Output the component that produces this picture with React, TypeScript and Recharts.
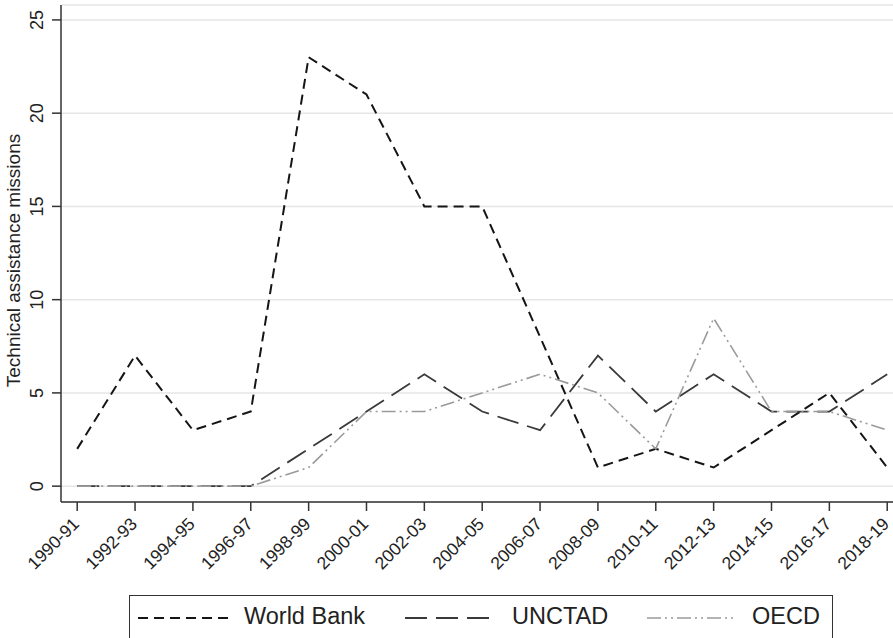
import { CartesianGrid, Line, LineChart, XAxis, YAxis } from 'recharts'

const periods = [
  '1990-91', '1992-93', '1994-95', '1996-97', '1998-99', '2000-01', '2002-03', '2004-05',
  '2006-07', '2008-09', '2010-11', '2012-13', '2014-15', '2016-17', '2018-19',
]
const worldBank = [2, 7, 3, 4, 23, 21, 15, 15, 8, 1, 2, 1, 3, 5, 1]
const unctad = [0, 0, 0, 0, 2, 4, 6, 4, 3, 7, 4, 6, 4, 4, 6]
const oecd = [0, 0, 0, 0, 1, 4, 4, 5, 6, 5, 2, 9, 4, 4, 3]
const yTicks = [0, 5, 10, 15, 20, 25]

const FONT = '"Liberation Sans", Arial, Helvetica, sans-serif'

const series = [
  { key: 'wb', name: 'World Bank', stroke: '#151515', width: 2, dash: '10 6' },
  { key: 'unctad', name: 'UNCTAD', stroke: '#3a3a3a', width: 1.8, dash: '22 9' },
  { key: 'oecd', name: 'OECD', stroke: '#9a9a9a', width: 1.6, dash: '14 4 2 4 2 4' },
]

const data = periods.map((p, i) => ({
  idx: i,
  period: p,
  wb: worldBank[i],
  unctad: unctad[i],
  oecd: oecd[i],
}))

function YTick({ y, payload }: any) {
  return (
    <text
      x={43}
      y={y}
      transform={`rotate(-90, 43, ${y})`}
      textAnchor="middle"
      fontSize={18}
      fontFamily={FONT}
      fill="#222"
    >
      {payload.value}
    </text>
  )
}

function XTick({ x, payload }: any) {
  const ax = x + 3
  const ay = 525
  return (
    <text
      x={ax}
      y={ay}
      transform={`rotate(-45, ${ax}, ${ay})`}
      textAnchor="end"
      fontSize={17.5}
      fontFamily={FONT}
      fill="#222"
    >
      {periods[payload.value]}
    </text>
  )
}

const legendPos = [
  { line: 8, text: 114 },
  { line: 275, text: 382 },
  { line: 517, text: 622 },
]

export default function App() {
  return (
    <div style={{ position: 'absolute', left: 0, top: 0, width: 893, height: 638, background: '#fff' }}>
      <LineChart width={893} height={638} data={data} margin={{ top: 5, right: 0, bottom: 46, left: 0 }}>
        <CartesianGrid vertical={false} stroke="#e6e6e6" strokeWidth={1.5} />
        <XAxis
          type="number"
          dataKey="idx"
          domain={[-0.28, 14.1]}
          ticks={periods.map((_, i) => i)}
          interval={0}
          height={90}
          stroke="#333"
          strokeWidth={1.5}
          tickSize={9}
          tick={<XTick />}
        />
        <YAxis
          domain={[-0.85, 25.8]}
          ticks={yTicks}
          width={61}
          stroke="#333"
          strokeWidth={1.5}
          tickSize={9}
          tick={<YTick />}
          label={{
            value: 'Technical assistance missions',
            angle: -90,
            position: 'insideLeft',
            dx: 8,
            dy: 7,
            style: { textAnchor: 'middle', fontSize: 19, fontFamily: FONT, fill: '#222' },
          }}
        />
        {series.map((s) => (
          <Line
            key={s.key}
            dataKey={s.key}
            name={s.name}
            type="linear"
            stroke={s.stroke}
            strokeWidth={s.width}
            strokeDasharray={s.dash}
            dot={false}
            isAnimationActive={false}
          />
        ))}
      </LineChart>
      <div
        style={{
          position: 'absolute',
          left: 129,
          top: 595,
          width: 704,
          height: 44,
          border: '1.5px solid #333',
          boxSizing: 'border-box',
          fontFamily: FONT,
        }}
      >
        {series.map((s, i) => (
          <div key={s.key}>
            <svg
              width={90}
              height={10}
              style={{ position: 'absolute', left: legendPos[i].line, top: 17 }}
            >
              <line
                x1={0}
                y1={5}
                x2={90}
                y2={5}
                stroke={s.stroke}
                strokeWidth={s.width}
                strokeDasharray={s.dash}
              />
            </svg>
            <span
              style={{
                position: 'absolute',
                left: legendPos[i].text,
                top: 6,
                fontSize: 23.5,
                lineHeight: '28px',
                color: '#222',
                whiteSpace: 'nowrap',
              }}
            >
              {s.name}
            </span>
          </div>
        ))}
      </div>
    </div>
  )
}
